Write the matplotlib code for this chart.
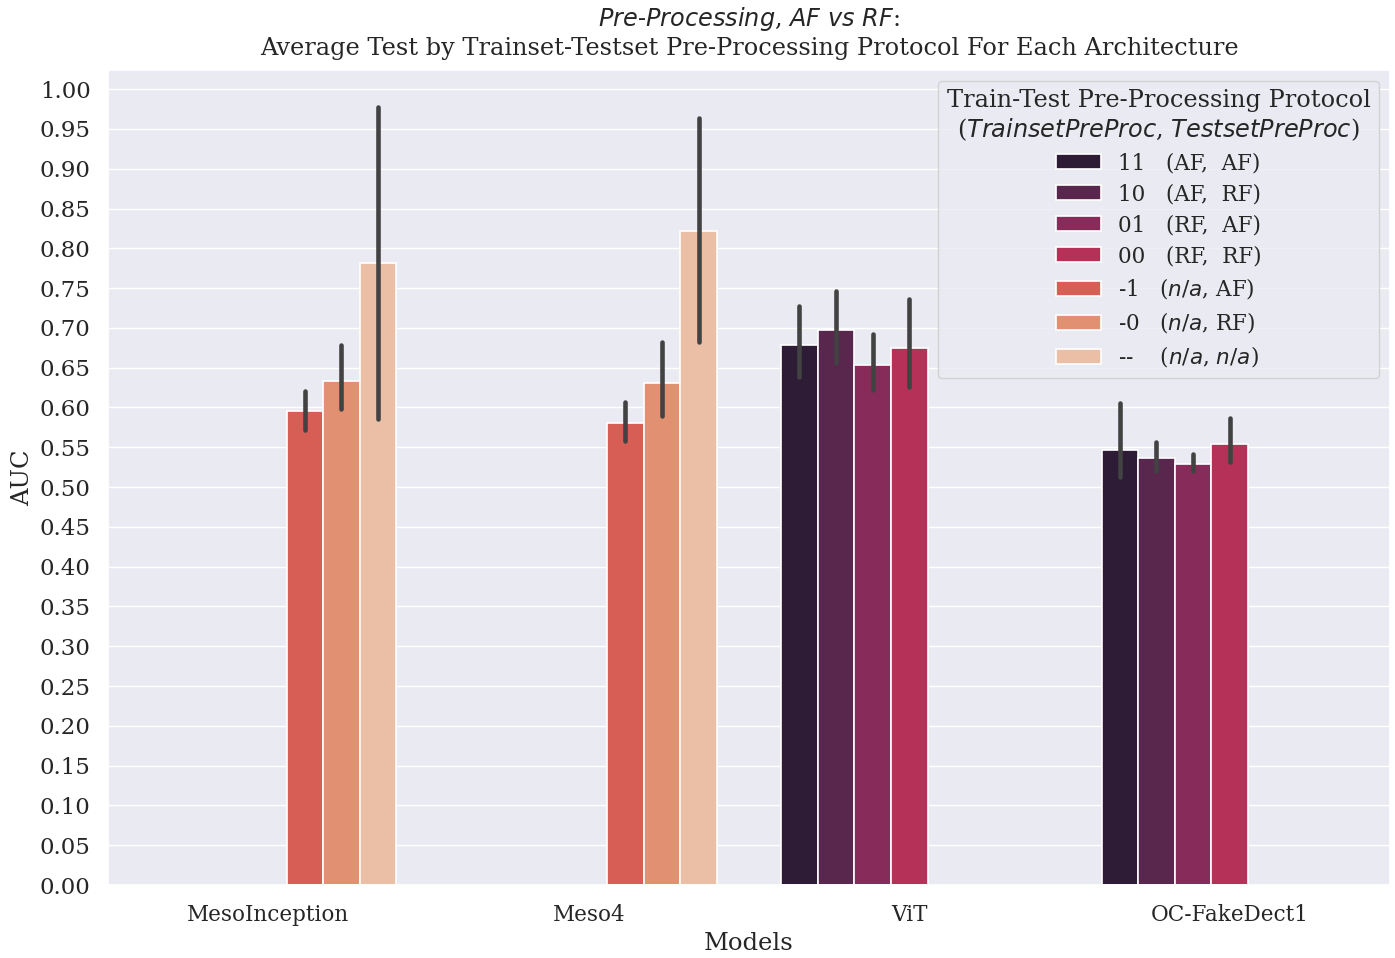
import numpy as np
import matplotlib
matplotlib.use("Agg")
import matplotlib.pyplot as plt
import seaborn as sns

sns.set_theme(style="darkgrid", font="serif")
plt.rcParams['font.family'] = ['DejaVu Serif']
plt.rcParams['mathtext.fontset'] = 'dejavusans'

models = ["MesoInception", "Meso4", "ViT", "OC-FakeDect1"]
protocols = ["11   (AF,  AF)", "10   (AF,  RF)", "01   (RF,  AF)", "00   (RF,  RF)",
             "-1   ($n/a$, AF)", "-0   ($n/a$, RF)", "--    ($n/a$, $n/a$)"]

nan = np.nan
# mean AUC per protocol (rows) and model (columns)
auc_mean = [
    [nan, nan, 0.678, 0.547],
    [nan, nan, 0.697, 0.536],
    [nan, nan, 0.653, 0.529],
    [nan, nan, 0.675, 0.554],
    [0.596, 0.581, nan, nan],
    [0.633, 0.631, nan, nan],
    [0.781, 0.822, nan, nan],
]
auc_low = [
    [nan, nan, 0.638, 0.513],
    [nan, nan, 0.656, 0.520],
    [nan, nan, 0.622, 0.520],
    [nan, nan, 0.626, 0.531],
    [0.572, 0.558, nan, nan],
    [0.598, 0.589, nan, nan],
    [0.586, 0.682, nan, nan],
]
auc_high = [
    [nan, nan, 0.727, 0.605],
    [nan, nan, 0.746, 0.556],
    [nan, nan, 0.692, 0.541],
    [nan, nan, 0.736, 0.587],
    [0.621, 0.607, nan, nan],
    [0.678, 0.682, nan, nan],
    [0.977, 0.964, nan, nan],
]

# seaborn barplot style: rocket palette, desaturated
colors = [sns.desaturate(c, 0.75) for c in sns.color_palette("rocket", len(protocols))]

fig = plt.figure(figsize=(13.95, 9.58), dpi=100)
ax = fig.add_axes([0.0774, 0.0762, 0.919, 0.8507])

n = len(protocols)
w = 0.8 / n
x = np.arange(len(models))
for i, lab in enumerate(protocols):
    pos = x - 0.4 + w * (i + 0.5)
    ax.bar(pos, auc_mean[i], width=w, color=colors[i], edgecolor="white",
           linewidth=1.2, label=lab)
    for p, lo, hi in zip(pos, auc_low[i], auc_high[i]):
        if not np.isnan(lo):
            ax.plot([p, p], [lo, hi], color=".26", linewidth=3.3,
                    solid_capstyle="round", zorder=3)

ax.grid(axis="x", visible=False)
ax.set_xlim(-0.5, len(models) - 0.5)
ax.set_ylim(0, 1.024)
ax.set_xticks(x)
ax.set_xticklabels(models)
ax.set_yticks(np.arange(0, 1.001, 0.05))
ax.tick_params(axis="x", labelsize=15.5, pad=7.8)
ax.tick_params(axis="y", labelsize=16.5, pad=6.5)
ax.set_xlabel("Models", fontsize=17.5)
ax.set_ylabel("AUC", fontsize=17.5)
ax.set_title("$Pre$-$Processing$, $AF$ $vs$ $RF$:\n"
             "Average Test by Trainset-Testset Pre-Processing Protocol For Each Architecture",
             fontsize=17.3, pad=11)

leg = ax.legend(title="Train-Test Pre-Processing Protocol\n($TrainsetPreProc$, $TestsetPreProc$)",
                loc="upper right", fontsize=15.5, title_fontsize=17.3,
                handlelength=2.1, labelspacing=0.42)
leg._legend_box.align = "center"
leg.get_title().set_ha("center")

fig.savefig("out.png", dpi=100)
